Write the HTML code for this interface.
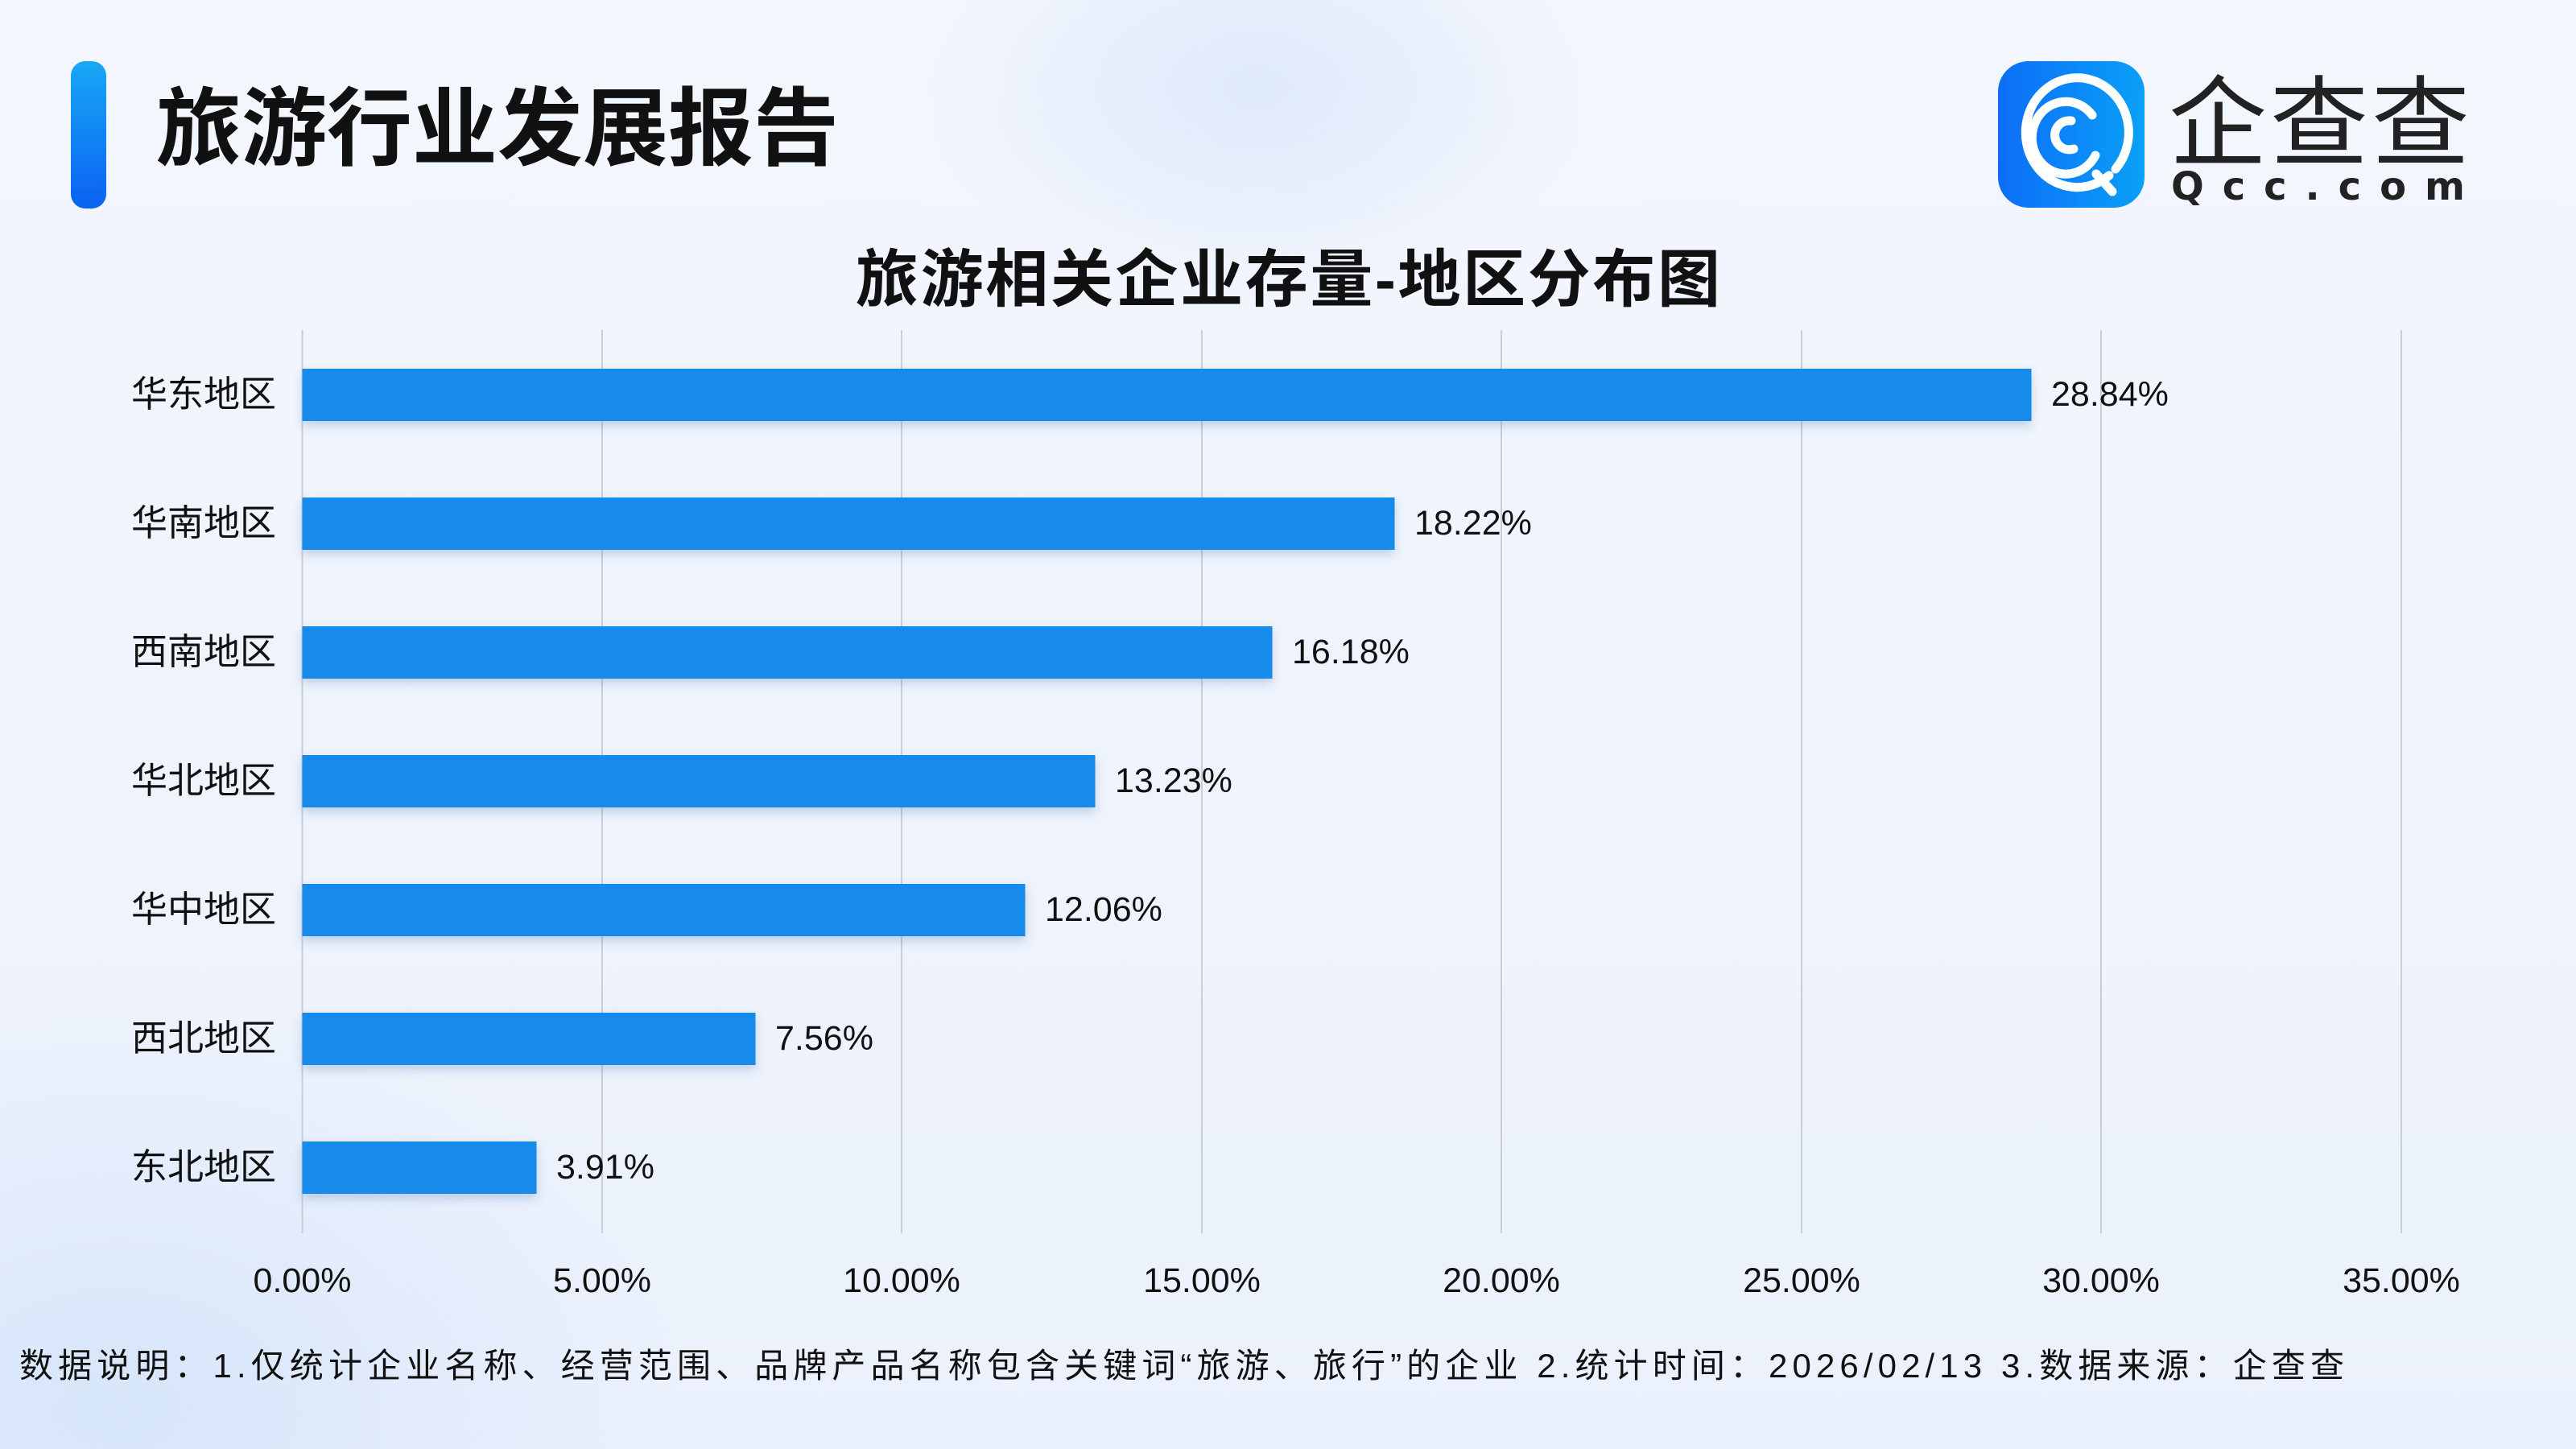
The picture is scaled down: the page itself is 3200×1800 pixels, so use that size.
<!DOCTYPE html>
<html><head><meta charset="utf-8"><style>
html,body{margin:0;padding:0}
body{width:3200px;height:1800px;overflow:hidden;position:relative;
background:
radial-gradient(ellipse 420px 260px at 1560px 110px, rgba(220,232,250,0.9), rgba(220,232,250,0) 100%),
radial-gradient(ellipse 700px 500px at 150px 1750px, rgba(210,226,250,0.8), rgba(210,226,250,0) 100%),
linear-gradient(180deg,#f3f6fd 0%,#eef3fc 60%,#ebf1fc 100%);
font-family:"Liberation Sans","Noto Sans CJK SC",sans-serif;color:#111}
</style></head><body>
<svg width="3200" height="1800" viewBox="0 0 3200 1800" xmlns="http://www.w3.org/2000/svg" style="position:absolute;left:0;top:0">
<defs>
<linearGradient id="acc" x1="0" y1="0" x2="0" y2="1"><stop offset="0" stop-color="#18a8f5"/><stop offset="1" stop-color="#0a62f2"/></linearGradient>
<linearGradient id="ic" x1="0" y1="0" x2="1" y2="0"><stop offset="0" stop-color="#0c6ef7"/><stop offset="1" stop-color="#0aa0f8"/></linearGradient>
<filter id="sh" x="-5%" y="-30%" width="110%" height="180%"><feDropShadow dx="0" dy="6" stdDeviation="6" flood-color="#3060a0" flood-opacity="0.25"/></filter>
</defs>
<rect x="88" y="76" width="44" height="183" rx="18" fill="url(#acc)"/>
<text x="194" y="197" font-size="106" font-weight="bold" fill="#111">旅游行业发展报告</text>
<rect x="2482" y="76" width="182" height="182" rx="38" fill="url(#ic)"/>
<g fill="none" stroke="#fff" stroke-width="11" stroke-linecap="round">
<path d="M2620 218 A 64 68 0 1 1 2628 210"/>
<path d="M2599 143 A 42 45 0 1 0 2603 193"/>
<path d="M2573 150 A 18 18 0 1 0 2576 185"/>
<path d="M2604 216 L2624 238"/>
</g>
<text x="2694" y="196" font-size="122" fill="#222" textLength="374" font-family="Noto Sans CJK SC,sans-serif">企查查</text>
<text x="2697" y="248" font-size="48" font-weight="bold" fill="#222" textLength="365" font-family="DejaVu Sans,sans-serif">Qcc.com</text>
<text x="1063" y="374" font-size="78" font-weight="bold" fill="#111" textLength="1074">旅游相关企业存量-地区分布图</text>
<g stroke="#c9ced8" stroke-width="2">
<line x1="375.5" y1="410" x2="375.5" y2="1532"/><line x1="748" y1="410" x2="748" y2="1532"/>
<line x1="1120" y1="410" x2="1120" y2="1532"/><line x1="1493" y1="410" x2="1493" y2="1532"/>
<line x1="1865" y1="410" x2="1865" y2="1532"/><line x1="2238" y1="410" x2="2238" y2="1532"/>
<line x1="2610" y1="410" x2="2610" y2="1532"/><line x1="2983" y1="410" x2="2983" y2="1532"/>
</g>
<g fill="#178bea" filter="url(#sh)">
<rect x="375.5" y="458" width="2148" height="65"/>
<rect x="375.5" y="618" width="1357" height="65"/>
<rect x="375.5" y="778" width="1205" height="65"/>
<rect x="375.5" y="938" width="985" height="65"/>
<rect x="375.5" y="1098" width="898" height="65"/>
<rect x="375.5" y="1258" width="563" height="65"/>
<rect x="375.5" y="1418" width="291" height="65"/>
</g>
<g font-size="45" text-anchor="end" fill="#111">
<text x="343" y="505">华东地区</text><text x="343" y="665">华南地区</text><text x="343" y="825">西南地区</text>
<text x="343" y="985">华北地区</text><text x="343" y="1145">华中地区</text><text x="343" y="1305">西北地区</text>
<text x="343" y="1465">东北地区</text>
</g>
<g font-size="43" fill="#111">
<text x="2548" y="504">28.84%</text><text x="1757" y="664">18.22%</text><text x="1605" y="824">16.18%</text>
<text x="1385" y="984">13.23%</text><text x="1298" y="1144">12.06%</text><text x="963" y="1304">7.56%</text>
<text x="691" y="1464">3.91%</text>
</g>
<g font-size="43" text-anchor="middle" fill="#111">
<text x="375.5" y="1605">0.00%</text><text x="748" y="1605">5.00%</text><text x="1120" y="1605">10.00%</text>
<text x="1493" y="1605">15.00%</text><text x="1865" y="1605">20.00%</text><text x="2238" y="1605">25.00%</text>
<text x="2610" y="1605">30.00%</text><text x="2983" y="1605">35.00%</text>
</g>
<text x="24" y="1711" font-size="42" fill="#111" textLength="2888">数据说明：1.仅统计企业名称、经营范围、品牌产品名称包含关键词“旅游、旅行”的企业   2.统计时间：2026/02/13    3.数据来源：企查查</text>
</svg>
</body></html>
